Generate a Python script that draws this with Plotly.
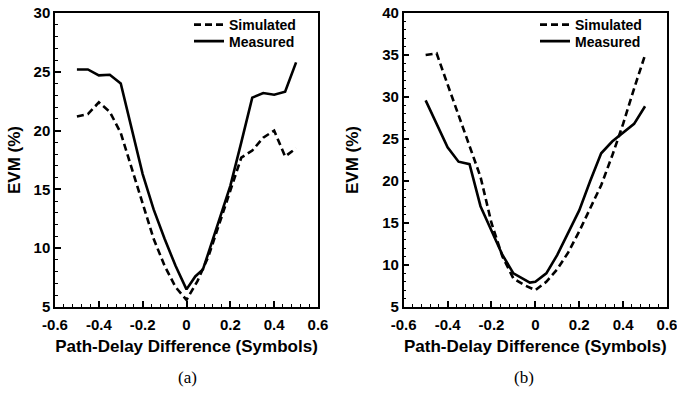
import plotly.graph_objects as go

# ---- data ----
a_sim_x = [-0.5, -0.45, -0.4, -0.35, -0.3, -0.25, -0.2, -0.15, -0.1, -0.05, 0.0,
           0.05, 0.1, 0.15, 0.2, 0.25, 0.3, 0.35, 0.4, 0.45, 0.5]
a_sim_y = [21.2, 21.4, 22.4, 21.6, 19.8, 16.8, 13.8, 10.8, 8.5, 6.7, 5.6,
           7.2, 9.3, 12.2, 14.9, 17.7, 18.3, 19.4, 20.0, 17.8, 18.5]
a_meas_x = [-0.5, -0.45, -0.4, -0.35, -0.3, -0.25, -0.2, -0.15, -0.1, -0.05, 0.0,
            0.04, 0.075, 0.1, 0.15, 0.2, 0.25, 0.3, 0.35, 0.4, 0.45, 0.5]
a_meas_y = [25.2, 25.2, 24.7, 24.75, 24.0, 20.2, 16.3, 13.3, 10.8, 8.5, 6.5,
            7.6, 8.2, 9.6, 12.4, 15.3, 19.0, 22.8, 23.2, 23.05, 23.3, 25.8]

b_sim_x = [-0.5, -0.45, -0.4, -0.35, -0.3, -0.25, -0.2, -0.15, -0.1, -0.05, 0.0,
           0.05, 0.1, 0.15, 0.2, 0.25, 0.3, 0.35, 0.4, 0.45, 0.5]
b_sim_y = [35.0, 35.2, 31.5, 27.8, 24.0, 20.5, 15.0, 11.0, 8.4, 7.6, 7.0,
           8.0, 9.5, 11.5, 14.0, 16.8, 19.5, 23.0, 26.8, 31.0, 35.0]
b_meas_x = [-0.5, -0.45, -0.4, -0.35, -0.3, -0.25, -0.2, -0.15, -0.1, -0.05, -0.025,
            0.0, 0.05, 0.1, 0.15, 0.2, 0.25, 0.3, 0.35, 0.4, 0.45, 0.5]
b_meas_y = [29.6, 26.8, 24.0, 22.3, 22.0, 17.0, 14.0, 11.2, 9.0, 8.2, 7.9,
            8.0, 9.0, 11.2, 13.8, 16.5, 20.0, 23.3, 24.7, 25.8, 26.8, 28.9]

x_tickvals = [-0.6, -0.4, -0.2, 0, 0.2, 0.4, 0.6]
x_ticktext = ["-0.6", "-0.4", "-0.2", "0", "0.2", "0.4", "0.6"]
a_yticks = [5, 10, 15, 20, 25, 30]
b_yticks = [5, 10, 15, 20, 25, 30, 35, 40]

W, H = 677, 394
FAM = "Liberation Sans"
DASH = "7px,4px"

def b(s):
    return "<b>" + s + "</b>"

fig = go.Figure()
fig.add_trace(go.Scatter(x=a_sim_x, y=a_sim_y, mode="lines", name=b("Simulated"),
                         line=dict(color="black", width=2.6, dash=DASH),
                         xaxis="x", yaxis="y", legend="legend", showlegend=True))
fig.add_trace(go.Scatter(x=a_meas_x, y=a_meas_y, mode="lines", name=b("Measured"),
                         line=dict(color="black", width=2.6),
                         xaxis="x", yaxis="y", legend="legend2", showlegend=True))
fig.add_trace(go.Scatter(x=b_sim_x, y=b_sim_y, mode="lines", name=b("Simulated"),
                         line=dict(color="black", width=2.6, dash=DASH),
                         xaxis="x2", yaxis="y2", legend="legend3", showlegend=True))
fig.add_trace(go.Scatter(x=b_meas_x, y=b_meas_y, mode="lines", name=b("Measured"),
                         line=dict(color="black", width=2.6),
                         xaxis="x2", yaxis="y2", legend="legend4", showlegend=True))

tickfont = dict(family=FAM, size=15, color="black")
titlefont = dict(family=FAM, size=17, color="black")

def xaxis(domain, anchor):
    return dict(domain=domain, anchor=anchor, range=[-0.6, 0.6], automargin=False,
                tickvals=x_tickvals, ticktext=[b(t) for t in x_ticktext],
                ticks="inside", ticklen=6, tickwidth=1.5, tickcolor="black",
                minor=dict(dtick=0.04, tick0=-0.6, ticks="inside", ticklen=3,
                           tickwidth=1.2, tickcolor="black", showgrid=False),
                showline=True, linecolor="black", linewidth=1.5, mirror=True,
                showgrid=False, zeroline=False, tickfont=tickfont,
                ticklabelstandoff=3, ticklabeloverflow="allow",
                title=dict(text=b("Path-Delay Difference (Symbols)"), font=titlefont,
                           standoff=8))

def yaxis(domain, anchor, rng, ticks, standoff):
    return dict(domain=domain, anchor=anchor, range=rng, automargin=False,
                tickvals=ticks, ticktext=[b(str(t)) for t in ticks],
                ticks="inside", ticklen=6, tickwidth=1.5, tickcolor="black",
                minor=dict(dtick=1, tick0=5, ticks="inside", ticklen=3,
                           tickwidth=1.2, tickcolor="black", showgrid=False),
                showline=True, linecolor="black", linewidth=1.5, mirror=True,
                showgrid=False, zeroline=False, tickfont=tickfont,
                ticklabeloverflow="allow",
                title=dict(text=b("EVM (%)"), font=titlefont, standoff=standoff))

def leg(xpx, ypx):
    return dict(x=xpx / W, y=(H - ypx) / H, xanchor="left", yanchor="top",
                bgcolor="rgba(0,0,0,0)", borderwidth=0,
                font=dict(family=FAM, size=14, color="black"),
                tracegroupgap=0, itemwidth=30, visible=True)

ydom = [(H - 307) / H, (H - 13) / H]
fig.update_layout(
    width=W, height=H,
    showlegend=True,
    margin=dict(l=0, r=0, t=0, b=0),
    paper_bgcolor="white", plot_bgcolor="white",
    xaxis=xaxis([55 / W, 318 / W], "y"),
    yaxis=yaxis(ydom, "x", [5, 30], a_yticks, 9),
    xaxis2=xaxis([403.7 / W, 667 / W], "y2"),
    yaxis2=yaxis(ydom, "x2", [5, 40], b_yticks, 19),
    legend=leg(189, 9),
    legend2=leg(189, 25.5),
    legend3=leg(535, 9),
    legend4=leg(535, 25.5),
    annotations=[
        dict(text="(a)", x=187 / W, y=(H - 377) / H, xref="paper", yref="paper",
             xanchor="center", yanchor="middle",
             showarrow=False, font=dict(family="Liberation Serif", size=17, color="black")),
        dict(text="(b)", x=524 / W, y=(H - 377) / H, xref="paper", yref="paper",
             xanchor="center", yanchor="middle",
             showarrow=False, font=dict(family="Liberation Serif", size=17, color="black")),
    ],
)

fig.write_html("out.html")
